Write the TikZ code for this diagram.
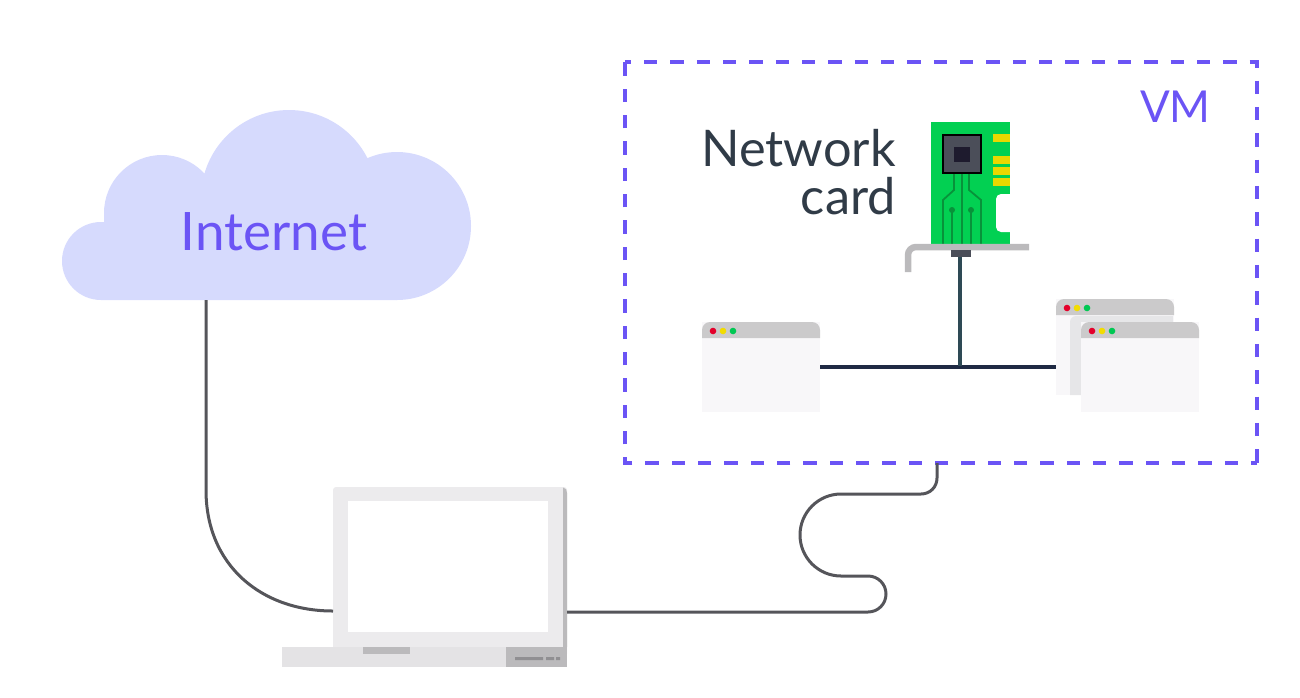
\documentclass[tikz,border=0pt]{standalone}
\usepackage{fontspec}
\setmainfont{Lato}
\definecolor{violet}{HTML}{6B54F5}
\definecolor{cloudfill}{HTML}{D6DAFD}
\definecolor{inktext}{HTML}{303B47}
\definecolor{wirecol}{HTML}{55555A}
\definecolor{lidcol}{HTML}{ECEBED}
\definecolor{basecol}{HTML}{E4E3E5}
\definecolor{edgecol}{HTML}{BBBABC}
\definecolor{markcol}{HTML}{908F92}
\definecolor{boardcol}{HTML}{02D052}
\definecolor{tracecol}{HTML}{08923A}
\definecolor{fingercol}{HTML}{E8D800}
\definecolor{chipcol}{HTML}{4B4E59}
\definecolor{corecol}{HTML}{1E1B2E}
\definecolor{barcol}{HTML}{CBCACB}
\definecolor{panecol}{HTML}{F8F7F9}
\definecolor{shadecol}{HTML}{E6E6E8}
\definecolor{buscol}{HTML}{1F2A44}
\definecolor{stemcol}{HTML}{2E4A55}
\definecolor{dotred}{HTML}{E4002B}
\definecolor{dotyellow}{HTML}{F2DC00}
\definecolor{dotgreen}{HTML}{00C853}
\tikzset{
    wire/.style={draw=wirecol, line width=3pt},
    label/.style={inner sep=0pt, font=\fontsize{#1}{48}\selectfont},
    vmline/.style={draw=violet, line width=4pt, dash pattern=on 13.3pt off 13.03pt, dash phase=7pt},
    winpane/.style={rectangle, fill=panecol, inner sep=0pt, minimum width=118pt, minimum height=90pt},
    trace/.style={draw=tracecol, line width=1.8pt}
}
\newcommand{\winbar}[2]{
    \fill[barcol] (#1,#2+16) [rounded corners=8pt] -- (#1,#2) -- (#1+118,#2) [sharp corners] -- (#1+118,#2+16) -- cycle;
    \foreach[count=\i] \c in {dotred,dotyellow,dotgreen}
        \fill[\c] (#1+1+10*\i,#2+9) circle (3.3pt);
}
\begin{document}
\begin{tikzpicture}[x=1pt,y=-1pt]
    \useasboundingbox (0,0) rectangle (1300,697);
    \fill[cloudfill] (101,261) circle (39pt) (162,213) circle (58pt) (289,198) circle (88pt) (397,226) circle (74pt);
    \fill[cloudfill] (104,213) rectangle (397,300) (101,261) rectangle (397,300);
    \node[label=53, text=violet] (cloud) at (274,232) {Internet};
    \coordinate (cloudout) at (206,300);

    \node[rectangle, minimum width=632pt, minimum height=401pt, inner sep=0pt] (vm) at (941,262.5) {};
    \draw[vmline] (vm.north west) -- (vm.north east) -- (vm.south east);
    \draw[vmline] (vm.south east) -- (vm.south west) -- (vm.north west);
    \node[label=44, text=violet, anchor=base east] (vmlabel) at (1211,122) {VM};
    \node[label=50.5, text=inktext, align=right, anchor=base east] (cardlabel) at (896,214) {Network\\card};

    \fill[boardcol] (931,122) rectangle (1010,245);
    \fill[white, rounded corners=5pt] (1015,194) -- (996,194) -- (996,232) -- (1015,232);
    \fill[white] (1010,196) rectangle (1015,230);
    \foreach \y in {134,156,167,178}
        \fill[fingercol] (993,\y) rectangle (1010,\y+7.5);
    \draw[trace] (954,173) -- (954,190) -- (943,200) -- (943,244);
    \draw[trace] (969,173) -- (969,190) -- (981,200) -- (981,244);
    \draw[trace] (962,173) -- (962,244);
    \foreach \x in {952,971}
    {
        \draw[trace] (\x,210) -- (\x,244);
        \fill[tracecol] (\x,210) circle (3pt);
    }
    \filldraw[draw=black, fill=chipcol, line width=1.2pt] (943,135) rectangle (981,173);
    \fill[corecol] (954,147) rectangle (970,162);
    \draw[edgecol, line width=6.5pt, rounded corners=8pt] (1029,247) -- (908,247) -- (908,272);
    \node[rectangle, fill=chipcol, inner sep=0pt, minimum width=20pt, minimum height=7pt] (plug) at (961,253.5) {};

    \node[winpane] (win1) at (761,367) {};
    \node[winpane, minimum height=96pt] (win2) at (1115,347) {};
    \fill[shadecol, rounded corners=6pt] (1070,395) -- (1070,316) -- (1090,316) -- (1090,395);
    \fill[shadecol] (1078,316) rectangle (1173,322);
    \fill[shadecol] (1078,316) rectangle (1081,395);
    \node[winpane] (win3) at (1140,367) {};
    \winbar{702}{322}
    \winbar{1056}{299}
    \winbar{1081}{322}

    \coordinate (busjoin) at (960,366);
    \draw[buscol, line width=3.4pt] (win1.east) -- (win1.east -| win2.west);
    \draw[stemcol, line width=3.6pt] (busjoin |- plug.south) -- (busjoin);

    \node[rectangle, rounded corners=3pt, fill=lidcol, inner sep=0pt, minimum width=234pt, minimum height=170pt] (laptop) at (450,572) {};
    \fill[edgecol] (563,487.5) .. controls (566,488) and (567,490) .. (567,493) -- (567,647) -- (563,647) -- cycle;
    \fill[white] (348,501) rectangle (548,632);
    \fill[basecol] (282,647) rectangle (567,667);
    \fill[edgecol] (363,647) rectangle (410,654);
    \fill[edgecol] (506,647) rectangle (567,667);
    \fill[markcol] (515,657) rectangle (543,660) (546,657) rectangle (554,660) (556,657) rectangle (560,660);
    \coordinate (lapleft) at (333,611);
    \coordinate (lapright) at (567,612);
    \coordinate (vmout) at (937,463);

    \draw[wire] (cloudout) -- (206,490) .. controls (206,566) and (262,611) .. (lapleft);
    \draw[wire] (lapright) -- (868,612) .. controls (878,612) and (886,604) .. (886,594) .. controls (886,584) and (878,576) .. (868,576) -- (841,576) .. controls (818.4,576) and (800,557.6) .. (800,535) .. controls (800,512.4) and (818.4,494) .. (841,494) -- (921,494) .. controls (930,494) and (937,487) .. (937,478) -- (vmout);
\end{tikzpicture}
\end{document}
